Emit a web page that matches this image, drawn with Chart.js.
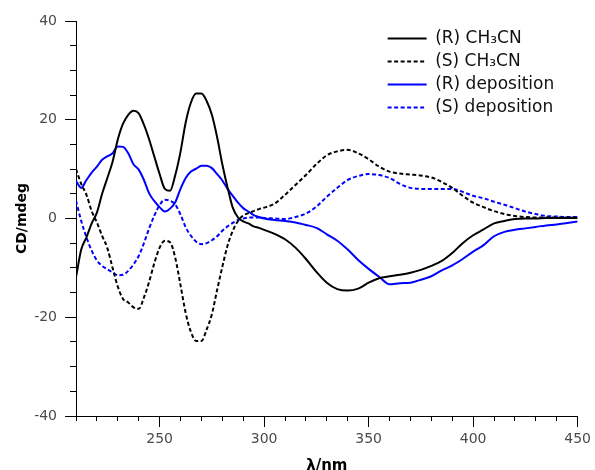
<!DOCTYPE html>
<html>
<head>
<meta charset="utf-8">
<script src="https://cdn.jsdelivr.net/npm/chart.js@4.4.1/dist/chart.umd.min.js"></script>
<style>
  html, body { margin: 0; padding: 0; background: #fff; }
</style>
</head>
<body>
<canvas id="myChart" width="595" height="470"></canvas>
<script>
// Wavelengths (nm) shared by all four CD spectra
const wavelength = [210, 212.5, 215, 217.5, 220, 222.5, 225, 227.5, 230, 232.5, 235, 237.5, 240, 242.5, 245, 247.5,
  250, 252.5, 255, 257.5, 260, 262.5, 265, 267.5, 270, 272.5, 275, 277.5, 280, 282.5, 285, 287.5,
  290, 292.5, 295, 297.5, 300, 305, 310, 315, 320, 325, 330, 335, 340, 345, 350, 355, 360, 365,
  370, 375, 380, 385, 390, 395, 400, 405, 410, 415, 420, 425, 430, 435, 440, 445, 450];

// CD signal (mdeg)
const rCH3CN = [-11.9, -6.3, -3.8, -1.0, 1.2, 5.0, 8.2, 11.5, 16.0, 19.2, 21.0, 21.8, 21.3, 19.0, 16.0, 12.5,
  9.0, 6.0, 5.6, 8.8, 13.5, 19.5, 23.5, 25.3, 25.3, 23.8, 21.0, 16.5, 11.0, 6.3, 2.2, 0.2,
  -0.6, -1.0, -1.6, -1.9, -2.3, -3.1, -4.2, -5.9, -8.2, -10.8, -13.0, -14.3, -14.6, -14.2, -13.0, -12.1, -11.7, -11.4,
  -11.0, -10.4, -9.6, -8.6, -7.0, -5.0, -3.4, -2.2, -1.0, -0.5, -0.1, 0.0, 0.0, 0.1, 0.1, 0.1, 0.1];

const sCH3CN = [10.0, 7.0, 4.8, 1.5, -0.8, -3.5, -6.0, -10.0, -13.8, -16.3, -17.0, -18.0, -18.3, -16.0, -12.8, -9.0,
  -5.9, -4.5, -4.8, -8.0, -13.5, -19.2, -23.0, -24.8, -24.8, -22.5, -19.4, -14.5, -9.8, -5.5, -2.5, -0.5,
  0.6, 1.1, 1.5, 1.9, 2.2, 3.0, 4.8, 6.8, 8.8, 11.0, 12.8, 13.6, 13.9, 13.2, 12.0, 10.5, 9.5, 9.1,
  8.9, 8.7, 8.3, 7.4, 6.2, 4.6, 3.2, 2.3, 1.5, 0.9, 0.5, 0.3, 0.2, 0.2, 0.2, 0.2, 0.2];

const rDeposition = [7.6, 6.2, 7.8, 9.3, 10.5, 11.9, 12.6, 13.2, 14.6, 14.5, 13.2, 11.0, 9.9, 7.8, 5.1, 3.5,
  2.3, 1.4, 2.0, 3.3, 6.0, 8.2, 9.5, 10.1, 10.7, 10.7, 10.2, 9.0, 7.7, 6.0, 4.6, 3.2,
  2.1, 1.4, 0.7, 0.3, 0.0, -0.3, -0.5, -0.8, -1.3, -1.9, -3.2, -4.5, -6.3, -8.4, -10.2, -11.8, -13.3, -13.1,
  -13.0, -12.4, -11.7, -10.5, -9.5, -8.2, -6.7, -5.4, -3.6, -2.7, -2.3, -2.0, -1.7, -1.4, -1.2, -0.9, -0.6];

const sDeposition = [3.6, -0.5, -3.8, -6.5, -8.5, -9.6, -10.3, -10.9, -11.5, -11.4, -10.6, -9.3, -7.6, -5.0, -2.0, 0.6,
  2.7, 3.8, 3.6, 2.8, 0.8, -1.8, -3.5, -4.7, -5.2, -5.0, -4.4, -3.6, -2.5, -1.6, -0.9, -0.3,
  0.0, 0.2, 0.2, 0.2, 0.1, 0.0, -0.1, 0.3, 1.0, 2.4, 4.4, 6.2, 7.8, 8.6, 9.0, 8.8, 8.2, 7.0,
  6.2, 6.0, 6.0, 6.0, 6.0, 5.4, 4.6, 4.1, 3.4, 2.8, 2.1, 1.4, 0.9, 0.5, 0.4, 0.3, 0.3];

const seriesLabels = ['(R) CH\u2083CN', '(S) CH\u2083CN', '(R) deposition', '(S) deposition'];

const FONT = 'DejaVu Sans';

function points(values) {
    return wavelength.map((w, i) => ({ x: w, y: values[i] }));
}

function lineSet(label, values, color, dashed) {
    return {
        label: label,
        data: points(values),
        borderColor: color,
        backgroundColor: color,
        borderWidth: 2,
        borderDash: dashed ? [4, 2.5] : [],
        pointRadius: 0,
        cubicInterpolationMode: 'monotone',
        fill: false
    };
}

// move the legend into the upper right of the plot
const legendPlacer = {
    id: 'legendPlacer',
    afterLayout(chart) {
        const lg = chart.legend;
        if (!lg) return;
        lg.left = chart.chartArea.right - 196;
        lg.top = chart.chartArea.top + 3;
    }
};

const ctx = document.getElementById('myChart').getContext('2d');

const myChart = new Chart(ctx, {
    type: 'line',
    data: {
        datasets: [
            lineSet(seriesLabels[0], rCH3CN, '#000000', false),
            lineSet(seriesLabels[1], sCH3CN, '#000000', true),
            lineSet(seriesLabels[2], rDeposition, '#0000ff', false),
            lineSet(seriesLabels[3], sDeposition, '#0000ff', true)
        ]
    },
    options: {
        responsive: false,
        animation: false,
        devicePixelRatio: 1,
        layout: { padding: { top: 21, right: 15, left: 0, bottom: 0 } },
        scales: {
            x: {
                type: 'linear',
                position: 'bottom',
                min: 210,
                max: 450,
                afterFit: (scale) => { scale.height = 54; },
                border: { display: true, color: '#000', width: 1 },
                grid: { display: true, drawOnChartArea: false, drawTicks: true, tickLength: 11, color: '#000' },
                ticks: {
                    stepSize: 50,
                    includeBounds: false,
                    autoSkip: false,
                    maxRotation: 0,
                    padding: 4,
                    color: '#4a4a4a',
                    font: { family: FONT, size: 14 }
                },
                title: {
                    display: true,
                    text: '\u03bb/nm',
                    color: '#000',
                    font: { family: FONT, size: 15, weight: 'bold' },
                    padding: { top: 0, bottom: -5 }
                }
            },
            y: {
                type: 'linear',
                position: 'left',
                min: -40,
                max: 40,
                afterFit: (scale) => { scale.width = 76; },
                border: { display: true, color: '#000', width: 1 },
                grid: { display: true, drawOnChartArea: false, drawTicks: true, tickLength: 11, color: '#000' },
                ticks: {
                    stepSize: 20,
                    padding: 8,
                    color: '#4a4a4a',
                    font: { family: FONT, size: 14 }
                },
                title: {
                    display: true,
                    text: 'CD/mdeg',
                    color: '#000',
                    font: { family: FONT, size: 14, weight: 'bold' },
                    padding: { top: 14, bottom: 0 }
                }
            },
            // minor tick marks
            x2: {
                axis: 'x',
                type: 'linear',
                position: { y: -40 },
                min: 210,
                max: 450,
                border: { display: false },
                grid: { display: true, drawOnChartArea: false, drawTicks: true, tickLength: 5, color: '#000' },
                ticks: { stepSize: 10, display: false, autoSkip: false }
            },
            y2: {
                axis: 'y',
                type: 'linear',
                position: { x: 210 },
                min: -40,
                max: 40,
                border: { display: false },
                grid: { display: true, drawOnChartArea: false, drawTicks: true, tickLength: 6, color: '#000' },
                ticks: { stepSize: 5, display: false }
            }
        },
        plugins: {
            tooltip: { enabled: false },
            legend: {
                position: 'chartArea',
                align: 'start',
                labels: {
                    usePointStyle: true,
                    pointStyle: 'line',
                    pointStyleWidth: 39,
                    padding: 6,
                    color: '#111',
                    font: { family: FONT, size: 17 },
                    generateLabels: (chart) => {
                        const items = Chart.defaults.plugins.legend.labels.generateLabels(chart);
                        return items.map((item) => {
                            const ds = chart.data.datasets[item.datasetIndex];
                            item.lineDash = ds.borderDash;
                            item.lineWidth = 2;
                            item.strokeStyle = ds.borderColor;
                            return item;
                        });
                    }
                }
            }
        }
    },
    plugins: [legendPlacer]
});
</script>
</body>
</html>
